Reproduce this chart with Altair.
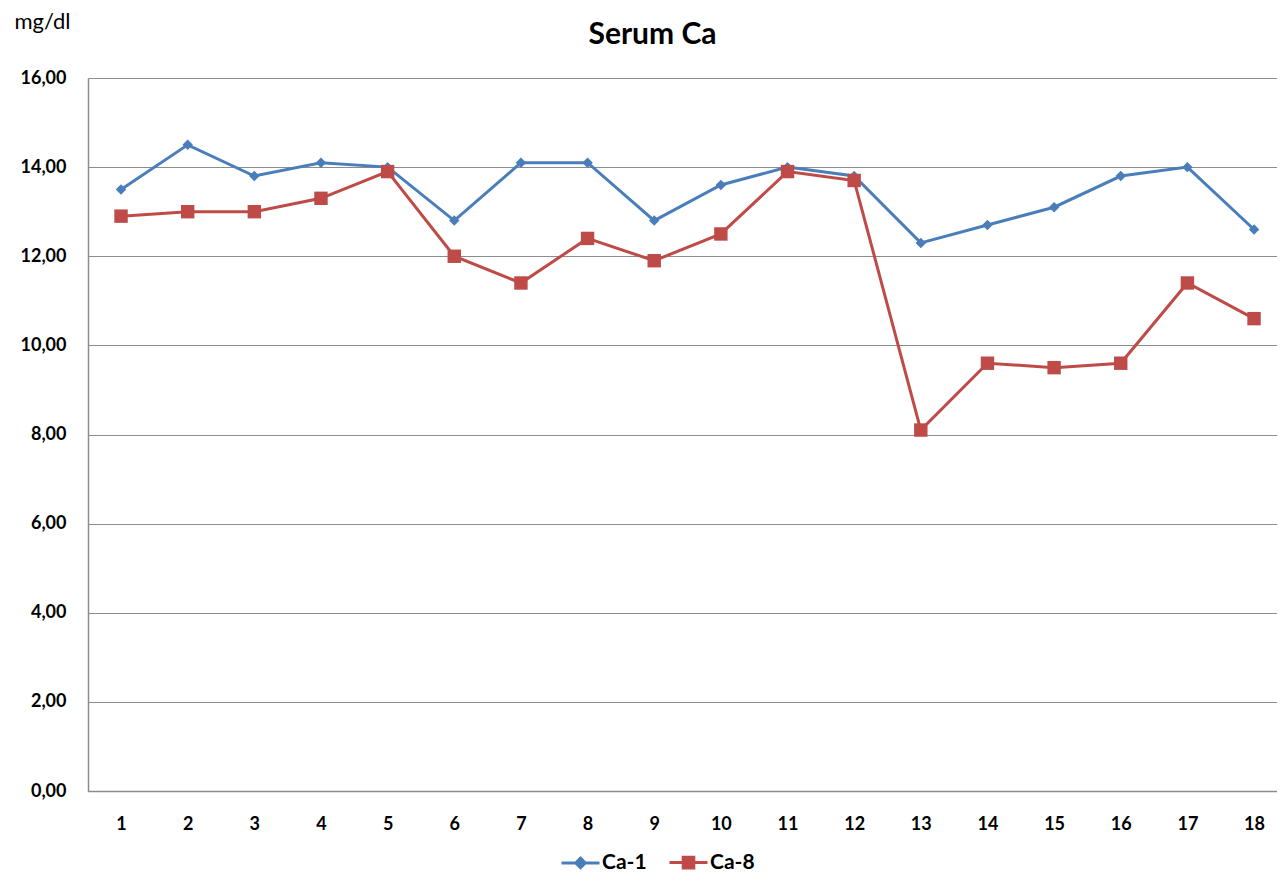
import altair as alt
import pandas as pd

samples = list(range(1, 19))
ca1 = [13.5, 14.5, 13.8, 14.1, 14.0, 12.8, 14.1, 14.1, 12.8, 13.6, 14.0, 13.8, 12.3, 12.7, 13.1, 13.8, 14.0, 12.6]
ca8 = [12.9, 13.0, 13.0, 13.3, 13.9, 12.0, 11.4, 12.4, 11.9, 12.5, 13.9, 13.7, 8.1, 9.6, 9.5, 9.6, 11.4, 10.6]
series_names = ["Ca-1", "Ca-8"]
series_colors = ["#4A7EBB", "#BE4B48"]
y_ticks = [0, 2, 4, 6, 8, 10, 12, 14, 16]

rows = []
for s, vals in zip(series_names, [ca1, ca8]):
    for x, v in zip(samples, vals):
        rows.append({"sample": x, "series": s, "value": v})
df = pd.DataFrame(rows)

FONT = "Lato"
GRID = "#8C8C8C"

x_enc = alt.X("sample:O", scale=alt.Scale(type="point", padding=0.42, align=0.59),
              axis=alt.Axis(title=None, labelAngle=0, ticks=False, grid=False,
                            domainColor=GRID, domainWidth=1.5,
                            labelFont=FONT, labelFontSize=18, labelFontWeight="bold",
                            labelColor="#000000", labelPadding=24))
y_enc = alt.Y("value:Q", scale=alt.Scale(domain=[0, 16], nice=False),
              axis=alt.Axis(values=y_ticks, ticks=False, grid=True, gridColor=GRID, gridWidth=1,
                            domainColor=GRID, domainWidth=1.5,
                            labelExpr="replace(format(datum.value, '.2f'), '.', ',')",
                            labelFont=FONT, labelFontSize=18, labelFontWeight="bold",
                            labelColor="#000000", labelPadding=22,
                            title="mg/dl", titleAngle=0, titleFont=FONT, titleFontSize=22,
                            titleFontWeight="normal", titleColor="#000000",
                            titleAlign="center", titleBaseline="alphabetic",
                            titleX=-46, titleY=-50))

base = alt.Chart(df)
d1 = base.transform_filter(alt.datum.series == series_names[0])
d8 = base.transform_filter(alt.datum.series == series_names[1])

line1 = d1.mark_line(strokeWidth=3, color=series_colors[0]).encode(x=x_enc, y=y_enc)
line8 = d8.mark_line(strokeWidth=3, color=series_colors[1]).encode(x=x_enc, y=y_enc)
pts1 = d1.mark_point(shape="diamond", filled=True, size=110, opacity=1,
                     color=series_colors[0]).encode(x=x_enc, y=y_enc)
pts8 = d8.mark_point(shape="square", filled=True, size=180, opacity=1,
                     color=series_colors[1]).encode(x=x_enc, y=y_enc)

leg = alt.Legend(title=None, orient="none", legendX=472, legendY=764, direction="horizontal",
                 symbolSize=1444, symbolStrokeWidth=3, symbolOpacity=1,
                 labelFont=FONT, labelFontSize=21,
                 labelFontWeight="bold", labelColor="#000000", labelOffset=1,
                 columnPadding=16)

legend_paths = ["M-1,0H1M0,-0.25L0.25,0L0,0.25L-0.25,0Z",
                "M-1,0H1M-0.28,-0.28H0.28V0.28H-0.28Z"]

legend_layer = base.mark_point(filled=True, strokeWidth=3, size=0, opacity=1).encode(
    x=x_enc, y=y_enc,
    fill=alt.Fill("series:N", scale=alt.Scale(domain=series_names, range=series_colors), legend=leg),
    stroke=alt.Stroke("series:N", scale=alt.Scale(domain=series_names, range=series_colors), legend=leg),
    shape=alt.Shape("series:N", scale=alt.Scale(domain=series_names, range=legend_paths), legend=leg),
)

chart = alt.layer(line1, line8, pts1, pts8, legend_layer).properties(
    width=1189, height=713,
    autosize="none",
    padding={"left": 80, "top": 70, "right": 0, "bottom": 87},
    title=alt.TitleParams("Serum Ca", font=FONT, fontSize=30, fontWeight="bold",
                          color="#000000", anchor="middle", dx=-30, dy=44),
).configure_view(stroke=None)

chart.save("out.html", embed_options={"renderer": "svg", "actions": False})
